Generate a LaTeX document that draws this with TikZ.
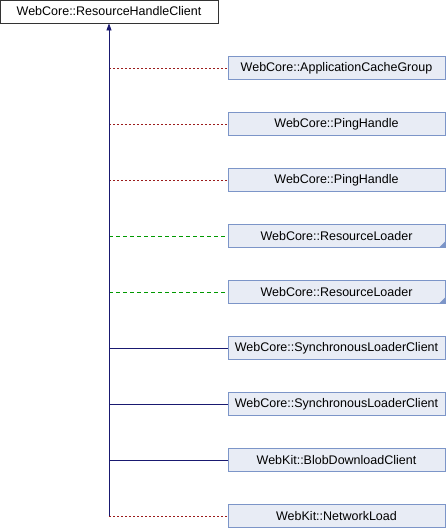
\documentclass[tikz,border=0pt]{standalone}
\usepackage{fontspec}
\setmainfont{Liberation Sans}
\usetikzlibrary{arrows.meta}
\definecolor{boxfill}{HTML}{E8ECF5}
\definecolor{boxline}{HTML}{7C95C8}
\definecolor{pubc}{HTML}{191970}
\definecolor{privc}{HTML}{9B1C1C}
\definecolor{protc}{HTML}{009900}
\tikzset{
  x=1pt,y=-1pt,
  base/.style={draw=black!80,fill=white,line width=0.8pt,minimum width=218pt,minimum height=23pt,inner sep=0pt,font=\fontsize{12.5}{14}\selectfont},
  cls/.style={draw=boxline,fill=boxfill,line width=0.8pt,minimum width=217pt,minimum height=23pt,inner sep=0pt,font=\fontsize{12.5}{14}\selectfont},
  more/.style={cls,path picture={\fill[boxline] (path picture bounding box.south east) -- ++(-6pt,0) -- ++(6pt,6pt) -- cycle;}},
  pub/.style={draw=pubc,line width=0.8pt},
  priv/.style={draw=privc,line width=0.8pt,dash pattern=on 2pt off 2pt},
  prot/.style={draw=protc,line width=0.8pt,dash pattern=on 4pt off 3pt},
}
\begin{document}
\begin{tikzpicture}
\useasboundingbox (0,0) rectangle (446,528);
\node[base] (root) at (109,11.5) {WebCore::ResourceHandleClient};
\node[cls]  (c1) at (336.5,68)  {WebCore::ApplicationCacheGroup};
\node[cls]  (c2) at (336.5,124) {WebCore::PingHandle};
\node[cls]  (c3) at (336.5,180) {WebCore::PingHandle};
\node[more] (c4) at (336.5,236) {WebCore::ResourceLoader};
\node[more] (c5) at (336.5,292) {WebCore::ResourceLoader};
\node[cls]  (c6) at (336.5,348) {WebCore::SynchronousLoaderClient};
\node[cls]  (c7) at (336.5,404) {WebCore::SynchronousLoaderClient};
\node[cls]  (c8) at (336.5,460) {WebKit::BlobDownloadClient};
\node[cls]  (c9) at (336.5,516) {WebKit::NetworkLoad};
\coordinate (t1) at (109,68);
\coordinate (t2) at (109,124);
\coordinate (t3) at (109,180);
\coordinate (t4) at (109,236);
\coordinate (t5) at (109,292);
\coordinate (t6) at (109,348);
\coordinate (t7) at (109,404);
\coordinate (t8) at (109,460);
\coordinate (t9) at (109,516);
\draw[priv] (t1) -- (c1.west);
\draw[priv] (t2) -- (c2.west);
\draw[priv] (t3) -- (c3.west);
\draw[prot] (t4) -- (c4.west);
\draw[prot] (t5) -- (c5.west);
\draw[pub] (t6) -- (c6.west);
\draw[pub] (t7) -- (c7.west);
\draw[pub] (t8) -- (c8.west);
\draw[priv] (t9) -- (c9.west);
\draw[pub,-{Triangle[length=7pt,width=5pt]}] (t9) -- (root.south);
\end{tikzpicture}
\end{document}
